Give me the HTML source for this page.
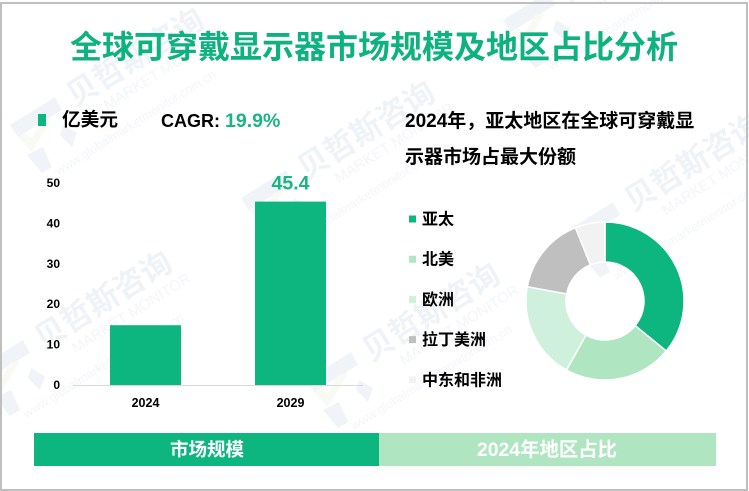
<!DOCTYPE html>
<html lang="zh-CN">
<head>
<meta charset="utf-8">
<title>全球可穿戴显示器市场规模及地区占比分析</title>
<style>
html,body{margin:0;padding:0;background:#fff;width:749px;height:491px;overflow:hidden;}
svg{display:block;overflow:hidden;font-family:"Liberation Sans","Noto Sans CJK SC",sans-serif;}
text{font-family:"Liberation Sans","Noto Sans CJK SC",sans-serif;}
</style>
</head>
<body>
<svg id="chart" width="749" height="491" viewBox="0 0 749 491" xmlns="http://www.w3.org/2000/svg">
  <rect x="0" y="0" width="749" height="491" fill="#ffffff"/>
  <g id="watermarks"></g>
  <rect x="1" y="3" width="746" height="487" fill="none" stroke="#bfbfbf" stroke-width="2"/>

  <text x="374" y="58" text-anchor="middle" font-size="32" font-weight="700" fill="#0db27e">全球可穿戴显示器市场规模及地区占比分析</text>

  <rect x="38" y="114" width="8" height="12" fill="#0db57f"/>
  <text x="62" y="126" font-size="18.7" font-weight="700" fill="#000">亿美元</text>
  <text x="161" y="127" font-size="18" font-weight="700" fill="#000">CAGR:</text>
  <text x="225" y="127" font-size="19.5" font-weight="700" fill="#1ab581">19.9%</text>

  <text x="405" y="127" font-size="19" font-weight="700" fill="#000">2024年，亚太地区在全球可穿戴显</text>
  <text x="405" y="163" font-size="19" font-weight="700" fill="#000">示器市场占最大份额</text>

  <g id="bar-chart"></g>
  <g id="donut-chart"></g>
  <g id="legend"></g>

  <rect x="34" y="433" width="345" height="33" fill="#0db57f"/>
  <text x="207" y="456" text-anchor="middle" font-size="18.5" font-weight="700" fill="#fff">市场规模</text>
  <rect x="379" y="433" width="337" height="33" fill="#afe6c1"/>
  <text x="547" y="456" text-anchor="middle" font-size="19.4" font-weight="700" fill="#fff">2024年地区占比</text>
</svg>
<script>
const years = ['2024', '2029'];
const marketSize = [14.8, 45.4];
const barLabels = ['', '45.4'];
const yTicks = [0, 10, 20, 30, 40, 50];
const regions = ['亚太', '北美', '欧洲', '拉丁美洲', '中东和非洲'];
const shares = [35.9, 22.2, 19.8, 16.0, 6.1];
const regionColors = ['#0db57f', '#afe6c1', '#cff0dc', '#bfbfbf', '#f2f2f2'];

const NS = 'http://www.w3.org/2000/svg';
function make(tag, attrs, parent, txt) {
  const el = document.createElementNS(NS, tag);
  for (const k in attrs) el.setAttribute(k, attrs[k]);
  if (txt !== undefined) el.textContent = txt;
  parent.appendChild(el);
  return el;
}

/* watermarks */
const wm = document.getElementById('watermarks');
[[82, 90], [313, 163], [50, 333], [378, 345], [640, 195], [575, -15]].forEach(function (p) {
  const tile = make('g', { transform: 'translate(' + p[0] + ' ' + p[1] + ')' }, wm);
  
  
  make('path', { d: 'M-72 35 L-27 7 L-20 20 L-64 47 Z', fill: '#f0f4f8' }, tile);
  make('path', { d: 'M-55 65 L-39 57 L-30 77 L-40 83 Z', fill: '#f0f4f8' }, tile);
  make('path', { d: 'M-19 35 L-5 43 L-10 57 L-22 45 Z', fill: '#f0f4f8' }, tile);
  make('path', { d: 'M-64 47 L-50 62 L-30 28 L-40 30 L-50 48 L-58 43 Z', fill: '#f8faf3' }, tile);
  const g = make('g', { transform: 'rotate(-32)' }, tile);
  make('text', { x: -15, y: 11, 'font-size': 31, 'font-weight': 700, fill: '#eff3f8' }, g, '贝哲斯咨询');
  make('text', { x: 11, y: 31, 'font-size': 15, fill: '#f2f5f9' }, g, 'MARKET MONITOR');
  make('text', { x: -65, y: 60, 'font-size': 12.5, fill: '#f2f5f9' }, g, 'www.globalmarketmonitor.com.cn');
});

/* bar chart */
const bars = document.getElementById('bar-chart');
const baseY = 385, unitPx = 4.04, axisLeft = 73, axisRight = 363, bandW = 145, barW = 71;
function yScale(v) { return baseY - v * unitPx; }
function xCenter(i) { return axisLeft + bandW * (i + 0.5); }

yTicks.forEach(function (t) {
  const el = make('text', { x: 60, y: yScale(t) + 4, 'text-anchor': 'end', 'font-size': 12, 'font-weight': 700, fill: '#000' }, bars, String(t));
  
  
});
marketSize.forEach(function (v, i) {
  const cx = xCenter(i);
  const r = make('rect', { x: cx - barW / 2, y: yScale(v), width: barW, height: baseY - yScale(v), fill: '#0db57f' }, bars);
  
  
  const c = make('text', { x: cx, y: 407, 'text-anchor': 'middle', 'font-size': 12.5, 'font-weight': 700, fill: '#000' }, bars, years[i]);
  
  
  if (barLabels[i]) {
    const l = make('text', { x: cx, y: yScale(v) - 12, 'text-anchor': 'middle', 'font-size': 19.5, 'font-weight': 700, fill: '#1ab581' }, bars, barLabels[i]);
    
    
  }
});
const axis = make('line', { x1: axisLeft, x2: axisRight, y1: baseY + 0.5, y2: baseY + 0.5, stroke: '#d9d9d9', 'stroke-width': 1 }, bars);



/* donut */
const donut = document.getElementById('donut-chart');
const cx = 605, cy = 301, rOut = 79, rIn = 39;
const total = shares.reduce(function (a, b) { return a + b; }, 0);
function angleScale(v) { return v / total * 2 * Math.PI; }
function polar(r, a) { return [cx + r * Math.sin(a), cy - r * Math.cos(a)]; }
let acc = 0;
shares.forEach(function (s, i) {
  const a0 = angleScale(acc), a1 = angleScale(acc + s);
  acc += s;
  const large = a1 - a0 > Math.PI ? 1 : 0;
  const p0 = polar(rOut, a0), p1 = polar(rOut, a1), p2 = polar(rIn, a1), p3 = polar(rIn, a0);
  const d = 'M' + p0[0] + ' ' + p0[1] + ' A' + rOut + ' ' + rOut + ' 0 ' + large + ' 1 ' + p1[0] + ' ' + p1[1] +
    ' L' + p2[0] + ' ' + p2[1] + ' A' + rIn + ' ' + rIn + ' 0 ' + large + ' 0 ' + p3[0] + ' ' + p3[1] + ' Z';
  const sl = make('path', { d: d, fill: regionColors[i], stroke: '#ffffff', 'stroke-width': 1.5 }, donut);
  
  
});

/* legend */
const legend = document.getElementById('legend');
regions.forEach(function (name, i) {
  const y = 219 + i * 40.2;
  const sw = make('rect', { x: 409, y: y - 3.5, width: 7, height: 7, fill: regionColors[i] }, legend);
  
  
  const t = make('text', { x: 422, y: y + 5.5, 'font-size': 16, 'font-weight': 700, fill: '#000' }, legend, name);
  
  
});
</script>
</body>
</html>
